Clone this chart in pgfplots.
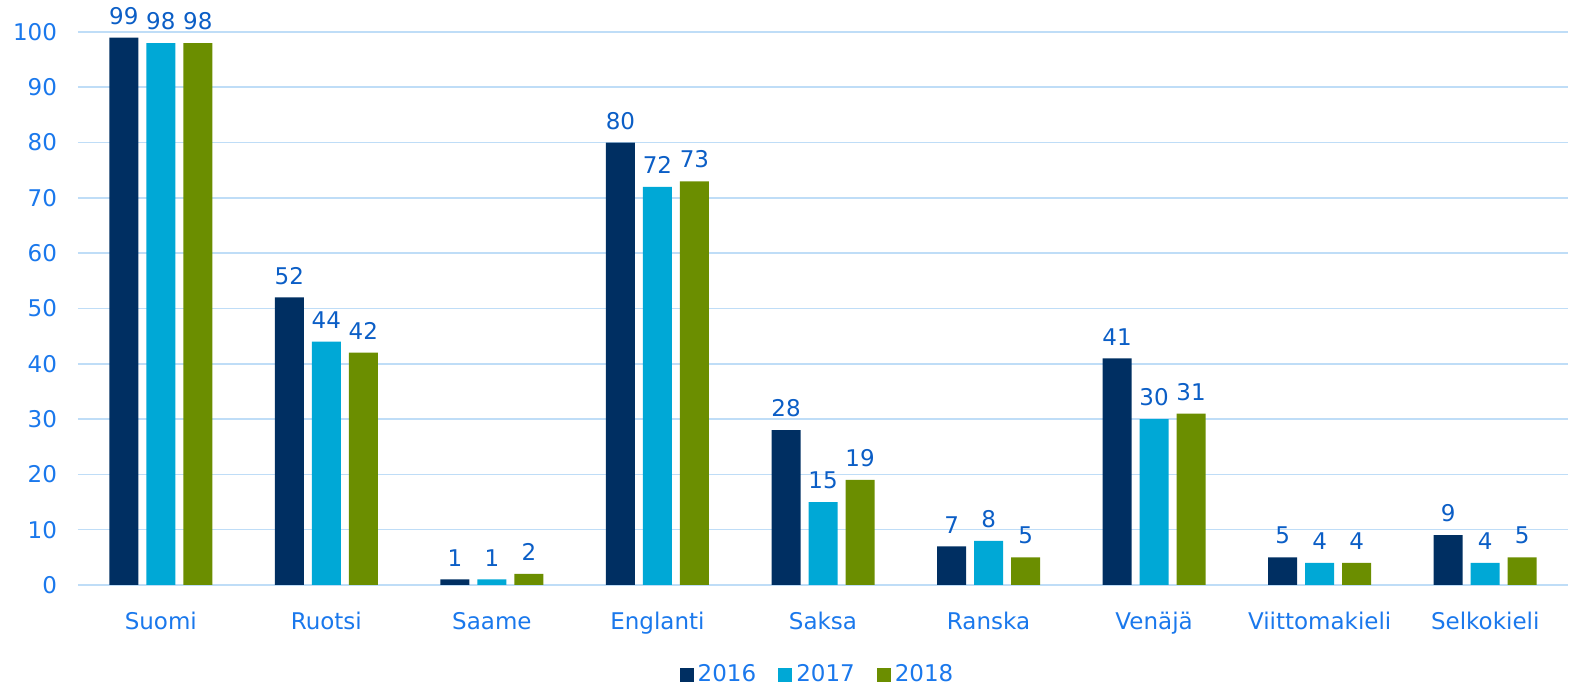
\documentclass[border=0pt]{standalone}
\usepackage{fontspec}
\setmainfont{DejaVu Sans}
\usepackage{pgfplots}
\pgfplotsset{compat=1.18}
\definecolor{c2016}{HTML}{002F62}
\definecolor{c2017}{HTML}{00A8D6}
\definecolor{c2018}{HTML}{6B8E00}
\definecolor{ticktext}{HTML}{1A78EC}
\definecolor{valtext}{HTML}{0B5EC6}
\definecolor{gridblue}{HTML}{BFDDF7}

\begin{document}
\begin{tikzpicture}
\begin{axis}[
  scale only axis,
  width=745pt, height=276.5pt,
  ybar,
  bar width=14.5pt,
  xmin=-0.5, xmax=8.5,
  ymin=0, ymax=100,
  ytick={0,10,...,100},
  xtick=data,
  xticklabels={Suomi,Ruotsi,Saame,Englanti,Saksa,Ranska,Venäjä,Viittomakieli,Selkokieli},
  major tick length=0pt,
  axis line style={draw=none},
  ymajorgrids,
  grid style={gridblue, line width=0.8pt},
  tick label style={font=\fontsize{11.5}{13}\selectfont, text=ticktext},
  /pgf/number format/assume math mode=true,
  yticklabel style={xshift=-7pt},
  xticklabel style={yshift=-10pt},
  clip=false,
  nodes near coords,
  every node near coord/.append style={font=\fontsize{11.5}{13}\selectfont, text=valtext, yshift=3pt},
  legend columns=3,
  legend style={at={(0.497,-0.162)}, anchor=center, draw=none, fill=none,
    font=\fontsize{11.5}{13}\selectfont, text=ticktext,
    /tikz/every even column/.append style={column sep=9pt}},
  legend image code/.code={\fill[#1] (0pt,-3.5pt) rectangle (7pt,3.5pt);},
]
\addplot[fill=c2016, draw=none, bar shift=-18.5pt] coordinates {(0,99) (1,52) (2,1) (3,80) (4,28) (5,7) (6,41) (7,5) (8,9)};
\addplot[fill=c2017, draw=none, bar shift=0pt] coordinates {(0,98) (1,44) (2,1) (3,72) (4,15) (5,8) (6,30) (7,4) (8,4)};
\addplot[fill=c2018, draw=none, bar shift=18.5pt] coordinates {(0,98) (1,42) (2,2) (3,73) (4,19) (5,5) (6,31) (7,4) (8,5)};
\legend{2016,2017,2018}
\end{axis}
\pgfresetboundingbox
\path ([xshift=-39pt,yshift=-51.5pt]current axis.south west) rectangle ([xshift=9.5pt,yshift=16pt]current axis.north east);
\end{tikzpicture}
\end{document}
